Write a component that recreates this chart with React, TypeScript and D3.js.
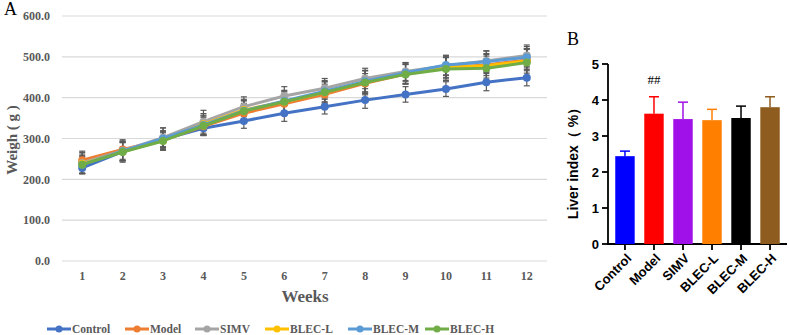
import React from "react";
import * as d3 from "d3";

// Weekly body weight (g), mean per group
const weeks = [1, 2, 3, 4, 5, 6, 7, 8, 9, 10, 11, 12];
const controlWeight = [228, 268, 298, 325, 343, 362, 378, 394, 408, 421, 438, 449];
const modelWeight = [247, 273, 296, 330, 362, 385, 408, 435, 458, 474, 480, 492];
const simvWeight = [240, 270, 302, 341, 378, 404, 423, 447, 464, 478, 490, 503];
const blecLWeight = [238, 268, 295, 335, 370, 390, 413, 438, 460, 474, 478, 490];
const blecMWeight = [236, 269, 300, 333, 368, 392, 416, 440, 461, 480, 488, 499];
const blecHWeight = [236, 267, 294, 331, 367, 390, 413, 437, 457, 470, 472, 486];

// Standard deviations (g)
const controlSd = [14, 22, 18, 16, 18, 20, 18, 20, 19, 18, 21, 20];
const modelSd = [22, 24, 22, 22, 24, 24, 25, 24, 24, 25, 26, 26];
const simvSd = [26, 24, 24, 28, 24, 23, 24, 25, 22, 24, 25, 26];
const blecLSd = [24, 22, 24, 26, 26, 26, 26, 28, 26, 28, 30, 30];
const blecMSd = [22, 24, 26, 24, 24, 26, 26, 26, 22, 24, 26, 26];
const blecHSd = [20, 25, 20, 24, 26, 24, 26, 30, 24, 28, 30, 34];

const weightTicks = [0, 100, 200, 300, 400, 500, 600];

const groupNames = ["Control", "Model", "SIMV", "BLEC-L", "BLEC-M", "BLEC-H"];
const lineColors = ["#4472C4", "#ED7D31", "#A5A5A5", "#FFC000", "#5B9BD5", "#70AD47"];

// Liver index (%)
const liverMean = [2.44, 3.62, 3.47, 3.44, 3.5, 3.8];
const liverSd = [0.14, 0.47, 0.47, 0.3, 0.33, 0.29];
const liverTicks = [0, 1, 2, 3, 4, 5];
const barColors = ["#0000FF", "#FF0000", "#A010E8", "#FF8000", "#000000", "#8F5C20"];

const weightSeries = [
  { name: "Control", values: controlWeight, sd: controlSd },
  { name: "Model", values: modelWeight, sd: modelSd },
  { name: "SIMV", values: simvWeight, sd: simvSd },
  { name: "BLEC-L", values: blecLWeight, sd: blecLSd },
  { name: "BLEC-M", values: blecMWeight, sd: blecMSd },
  { name: "BLEC-H", values: blecHWeight, sd: blecHSd },
];

const serif = "'Liberation Serif', 'Times New Roman', serif";
const sans = "'Liberation Sans', Arial, sans-serif";
const grey = "#595959";

function WeightChart() {
  const x = d3.scaleBand<number>().domain(weeks).range([62, 547]);
  const y = d3.scaleLinear().domain([0, 600]).range([261, 16]);
  const cx = (w: number) => (x(w) as number) + x.bandwidth() / 2;
  const line = d3
    .line<number>()
    .x((_, i) => cx(weeks[i]))
    .y((v) => y(v));

  const legendX = [47, 125, 195, 265, 348, 425];

  return (
    <g>
      <text x={4} y={15} fontFamily={serif} fontSize={18} fill="#000">A</text>
      {weightTicks.map((t) => (
        <g key={t}>
          <line x1={62} x2={547} y1={y(t)} y2={y(t)} stroke="#D9D9D9" strokeWidth={1.2} />
          <text x={50} y={y(t)} dy="0.35em" textAnchor="end" fontFamily={serif}
            fontWeight="bold" fontSize={12} fill={grey}>
            {t.toFixed(1)}
          </text>
        </g>
      ))}
      {weeks.map((w) => (
        <text key={w} x={cx(w)} y={276} dy="0.35em" textAnchor="middle" fontFamily={serif}
          fontWeight="bold" fontSize={12} fill={grey}>
          {w}
        </text>
      ))}
      <text x={305} y={302} textAnchor="middle" fontFamily={serif} fontWeight="bold"
        fontSize={17} fill={grey}>
        Weeks
      </text>
      <text transform="translate(17,140) rotate(-90)" textAnchor="middle" fontFamily={serif}
        fontWeight="bold" fontSize={15} fill={grey}>
        Weigh ( g )
      </text>

      {/* error bars */}
      {weightSeries.map((s) =>
        s.values.map((v, i) => {
          const px = cx(weeks[i]);
          const top = y(v + s.sd[i]);
          const bot = y(v - s.sd[i]);
          return (
            <g key={s.name + i} stroke="#595959" strokeWidth={1.2}>
              <line x1={px} x2={px} y1={top} y2={bot} />
              <line x1={px - 3} x2={px + 3} y1={top} y2={top} />
              <line x1={px - 3} x2={px + 3} y1={bot} y2={bot} />
            </g>
          );
        })
      )}

      {/* lines and markers */}
      {weightSeries.map((s, si) => (
        <g key={s.name}>
          <path d={line(s.values) || ""} fill="none" stroke={lineColors[si]} strokeWidth={3}
            strokeLinejoin="round" />
          {s.values.map((v, i) => (
            <circle key={i} cx={cx(weeks[i])} cy={y(v)} r={4} fill={lineColors[si]} />
          ))}
        </g>
      ))}

      {/* legend */}
      {groupNames.map((n, i) => (
        <g key={n}>
          <line x1={legendX[i]} x2={legendX[i] + 24} y1={329} y2={329} stroke={lineColors[i]}
            strokeWidth={3} />
          <circle cx={legendX[i] + 12} cy={329} r={3.5} fill={lineColors[i]} />
          <text x={legendX[i] + 25} y={329} dy="0.35em" fontFamily={serif} fontWeight="bold"
            fontSize={11.5} fill={grey}>
            {n}
          </text>
        </g>
      ))}
    </g>
  );
}

function LiverChart() {
  const x = d3.scaleBand<string>().domain(groupNames).range([608, 787]).paddingInner(0.33).paddingOuter(0.25);
  const y = d3.scaleLinear().domain([0, 5]).range([244, 64]);
  const bw = x.bandwidth();

  return (
    <g fontFamily={sans} fontWeight="bold">
      <text x={567} y={45} fontFamily={serif} fontWeight="normal" fontSize={18} fill="#000">B</text>
      <line x1={608} x2={608} y1={y(5)} y2={y(0)} stroke="#000" strokeWidth={1.8} />
      <line x1={607} x2={787} y1={y(0)} y2={y(0)} stroke="#000" strokeWidth={1.8} />
      {liverTicks.map((t) => (
        <g key={t}>
          <line x1={602} x2={608} y1={y(t)} y2={y(t)} stroke="#000" strokeWidth={1.8} />
          <text x={599} y={y(t)} dy="0.36em" textAnchor="end" fontSize={13} fill="#000">{t}</text>
        </g>
      ))}
      <text transform="translate(578,160) rotate(-90)" textAnchor="middle" fontSize={14} fill="#000">
        Liver index（ %）
      </text>
      {groupNames.map((n, i) => {
        const bx = x(n) as number;
        const c = bx + bw / 2;
        const top = y(liverMean[i]);
        const errTop = y(liverMean[i] + liverSd[i]);
        return (
          <g key={n}>
            <line x1={c} x2={c} y1={top} y2={errTop} stroke={barColors[i]} strokeWidth={1.5} />
            <line x1={c - 5} x2={c + 5} y1={errTop} y2={errTop} stroke={barColors[i]} strokeWidth={1.5} />
            <rect x={bx} y={top} width={bw} height={y(0) - top} fill={barColors[i]} />
            <line x1={c} x2={c} y1={y(0)} y2={y(0) + 6} stroke="#000" strokeWidth={1.8} />
            <text transform={`translate(${c + 4},${y(0) + 12}) rotate(-45)`} textAnchor="end"
              dy="0.35em" fontSize={13} fill="#000">
              {n}
            </text>
          </g>
        );
      })}
      <text x={(x("Model") as number) + bw / 2} y={84} textAnchor="middle" fontFamily={serif}
        fontWeight="normal" fontSize={13} fill="#000">
        ##
      </text>
    </g>
  );
}

export default function App() {
  return (
    <svg width={789} height={335} style={{ position: "absolute", left: 0, top: 0, background: "#fff" }}>
      <rect width={789} height={335} fill="#fff" />
      <WeightChart />
      <LiverChart />
    </svg>
  );
}
